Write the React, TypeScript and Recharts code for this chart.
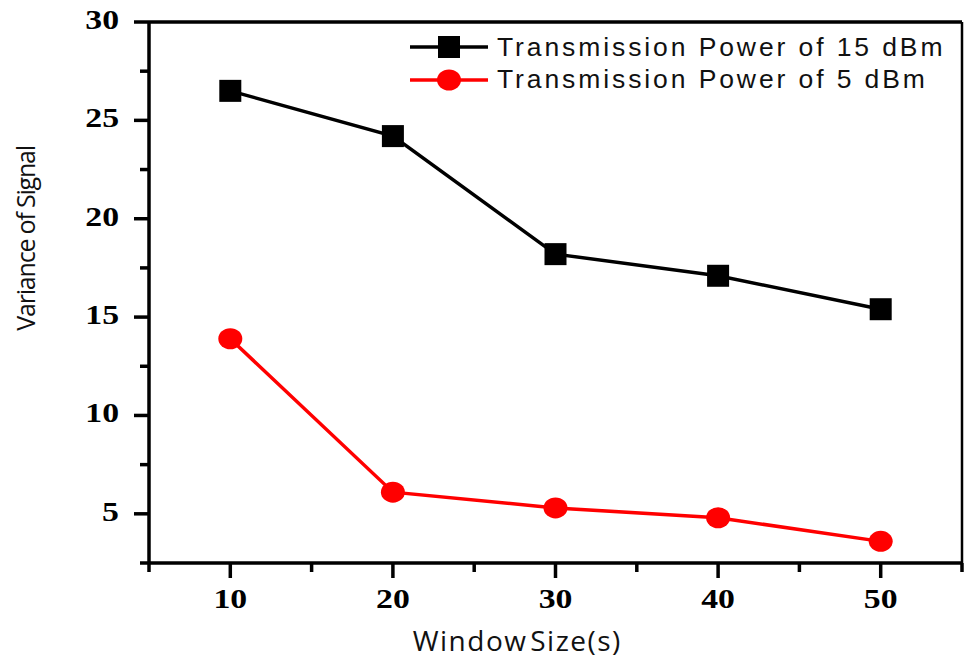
import { LineChart, Line, XAxis, YAxis, Legend, ReferenceLine, Label } from "recharts";

const windowSizes = [10, 20, 30, 40, 50];
const power15 = [26.5, 24.2, 18.2, 17.1, 15.4];
const power5 = [13.9, 6.1, 5.3, 4.8, 3.6];

const xTicks = [5, 10, 15, 20, 25, 30, 35, 40, 45, 50, 55];
const xLabels = [10, 20, 30, 40, 50];
const yTicks = [2.5, 5, 7.5, 10, 12.5, 15, 17.5, 20, 22.5, 25, 27.5, 30];
const yLabels = [5, 10, 15, 20, 25, 30];

const data = windowSizes.map((x, i) => ({ x, p15: power15[i], p5: power5[i] }));

const tickFont = { fontFamily: "'Liberation Serif', 'Times New Roman', serif", fontWeight: 700, fontSize: 27 };

function XTick({ x, y, payload }: any) {
  const major = xLabels.includes(payload.value);
  return (
    <g>
      <line x1={x} x2={x} y1={y} y2={y + (major ? 15 : 9)} stroke="#000" strokeWidth={3.5} />
      {major && (
        <text transform={`translate(${x},${y + 45}) scale(1.25,1)`} textAnchor="middle" fill="#000" style={tickFont}>
          {payload.value}
        </text>
      )}
    </g>
  );
}

function YTick({ x, y, payload }: any) {
  const major = yLabels.includes(payload.value);
  return (
    <g>
      <line x1={x - (major ? 15 : 9)} x2={x} y1={y} y2={y} stroke="#000" strokeWidth={3.5} />
      {major && (
        <text transform={`translate(${x - 30},${y + 7}) scale(1.25,1)`} textAnchor="end" fill="#000" style={tickFont}>
          {payload.value}
        </text>
      )}
    </g>
  );
}

const titleFont = { fontFamily: "'Open Sans', sans-serif", fill: "#111" };

function YTitle({ viewBox }: any) {
  const cx = viewBox.x + 25;
  const cy = viewBox.y + viewBox.height * 0.4;
  return (
    <text transform={`translate(${cx},${cy}) rotate(-90)`} textAnchor="middle" dominantBaseline="central"
      style={{ ...titleFont, fontSize: 25, letterSpacing: -1.2 }}>
      Variance of Signal
    </text>
  );
}

function XTitle({ viewBox }: any) {
  const cx = viewBox.x + viewBox.width * 0.453;
  const cy = viewBox.y + 88;
  return (
    <text x={cx} y={cy} textAnchor="middle" style={{ ...titleFont, fontSize: 28, letterSpacing: 1.5, wordSpacing: -6 }}>
      Window Size(s)
    </text>
  );
}

const squareDot = (p: any) => (
  <rect key={`sq-${p.index}`} x={p.cx - 11} y={p.cy - 11} width={22} height={22} fill="#000" />
);
const circleDot = (p: any) => (
  <ellipse key={`ci-${p.index}`} cx={p.cx} cy={p.cy} rx={12} ry={10.5} fill="#ff0000" />
);

function LegendContent({ payload }: any) {
  return (
    <div>
      {(payload ?? []).map((e: any) => (
        <div key={e.value} style={{ display: "flex", alignItems: "center", height: 32.5 }}>
          <svg width={87} height={32}>
            <line x1={0} x2={78} y1={16} y2={16} stroke={e.color} strokeWidth={3.5} />
            {e.dataKey === "p15" ? (
              <rect x={28} y={5} width={22} height={22} fill={e.color} />
            ) : (
              <ellipse cx={39} cy={16} rx={12} ry={10.5} fill={e.color} />
            )}
          </svg>
          <span style={{ fontFamily: "'Liberation Sans', Arial, sans-serif", fontSize: 26.5, letterSpacing: 2.9, color: "#111", whiteSpace: "nowrap" }}>
            {e.value}
          </span>
        </div>
      ))}
    </div>
  );
}

export default function App() {
  return (
    <div style={{ position: "absolute", left: 0, top: 0, width: 964, height: 660, background: "#fff" }}>
      <LineChart width={964} height={660} data={data} margin={{ top: 22, right: 2, bottom: 0, left: 0 }}>
        <XAxis
          dataKey="x"
          type="number"
          domain={[5, 55]}
          ticks={xTicks}
          interval={0}
          height={97}
          tickSize={0}
          tickMargin={0}
          tickLine={false}
          tick={<XTick />}
          axisLine={{ stroke: "#000", strokeWidth: 3.5 }}
        >
          <Label content={<XTitle />} />
        </XAxis>
        <YAxis
          type="number"
          domain={[2.5, 30]}
          ticks={yTicks}
          interval={0}
          width={149}
          tickSize={0}
          tickMargin={0}
          tickLine={false}
          tick={<YTick />}
          axisLine={{ stroke: "#000", strokeWidth: 3.5 }}
        >
          <Label content={<YTitle />} />
        </YAxis>
        <ReferenceLine y={30} stroke="#000" strokeWidth={3.5} />
        <ReferenceLine x={55} stroke="#000" strokeWidth={2.5} />
        <Line
          type="linear"
          dataKey="p15"
          name="Transmission Power of 15 dBm"
          stroke="#000"
          strokeWidth={3.5}
          dot={squareDot}
          activeDot={false}
          isAnimationActive={false}
        />
        <Line
          type="linear"
          dataKey="p5"
          name="Transmission Power of 5 dBm"
          stroke="#ff0000"
          strokeWidth={3.5}
          dot={circleDot}
          activeDot={false}
          isAnimationActive={false}
        />
        <Legend
          layout="horizontal"
          verticalAlign="middle"
          align="center"
          content={<LegendContent />}
          wrapperStyle={{ left: 410, top: 31, width: 560, margin: 0 }}
        />
      </LineChart>
    </div>
  );
}
